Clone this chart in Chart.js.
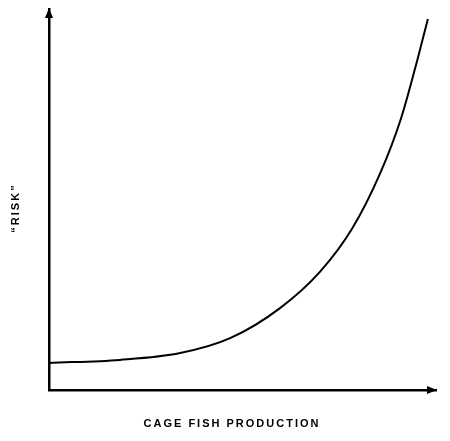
<!DOCTYPE html>
<html>
<head>
<meta charset="utf-8">
<script src="https://cdn.jsdelivr.net/npm/chart.js@4"></script>
<style>
  html, body { margin: 0; padding: 0; background: #fff; }
  #wrap { width: 450px; height: 441px; }
</style>
</head>
<body>
<div id="wrap"><canvas id="riskChart"></canvas></div>
<script>
// production (arbitrary units, 0-100) vs "risk" (0-100)
const production = [0, 18.3, 33.9, 46.8, 59.7, 70.0, 78.3, 85.5, 91.0, 95.3, 97.9];
const risk = [7.1, 7.9, 9.7, 13.6, 21.5, 31.0, 42.3, 56.7, 71.4, 87.1, 97.4];
const xLabel = "CAGE FISH PRODUCTION";
const yLabel = "\u201CRISK\u201D";

// arrows on the axis ends + spaced-out axis labels
const axisDecor = {
    id: "axisDecor",
    afterDraw(chart) {
        const ctx = chart.ctx;
        const a = chart.chartArea;
        ctx.save();
        ctx.fillStyle = "#000";
        // x arrow
        ctx.beginPath();
        ctx.moveTo(a.right + 1, a.bottom);
        ctx.lineTo(a.right - 9, a.bottom - 4);
        ctx.lineTo(a.right - 9, a.bottom + 4);
        ctx.closePath();
        ctx.fill();
        // y arrow
        ctx.beginPath();
        ctx.moveTo(a.left, a.top - 1);
        ctx.lineTo(a.left - 4, a.top + 9);
        ctx.lineTo(a.left + 4, a.top + 9);
        ctx.closePath();
        ctx.fill();

        ctx.font = "bold 11px 'Liberation Sans', Arial, sans-serif";
        ctx.letterSpacing = "2px";
        ctx.textAlign = "center";
        ctx.textBaseline = "middle";
        ctx.fillText(xLabel, 232, 424);
        ctx.translate(16, 208);
        ctx.rotate(-Math.PI / 2);
        ctx.fillText(yLabel, 0, 0);
        ctx.restore();
    }
};

new Chart(document.getElementById("riskChart"), {
    type: "line",
    data: {
        datasets: [{
            data: production.map((x, i) => ({ x: x, y: risk[i] })),
            borderColor: "#000",
            borderWidth: 2,
            pointRadius: 0,
            cubicInterpolationMode: "monotone",
            fill: false
        }]
    },
    options: {
        responsive: true,
        maintainAspectRatio: false,
        animation: false,
        layout: { padding: { left: 41, right: 14, top: 9, bottom: 43 } },
        plugins: { legend: { display: false }, tooltip: { enabled: false } },
        scales: {
            x: {
                type: "linear", min: 0, max: 100,
                ticks: { display: false },
                grid: { display: false },
                border: { display: true, color: "#000", width: 2.5 }
            },
            y: {
                min: 0, max: 100,
                ticks: { display: false },
                grid: { display: false },
                border: { display: true, color: "#000", width: 2.5 }
            }
        }
    },
    plugins: [axisDecor]
});
</script>
</body>
</html>
